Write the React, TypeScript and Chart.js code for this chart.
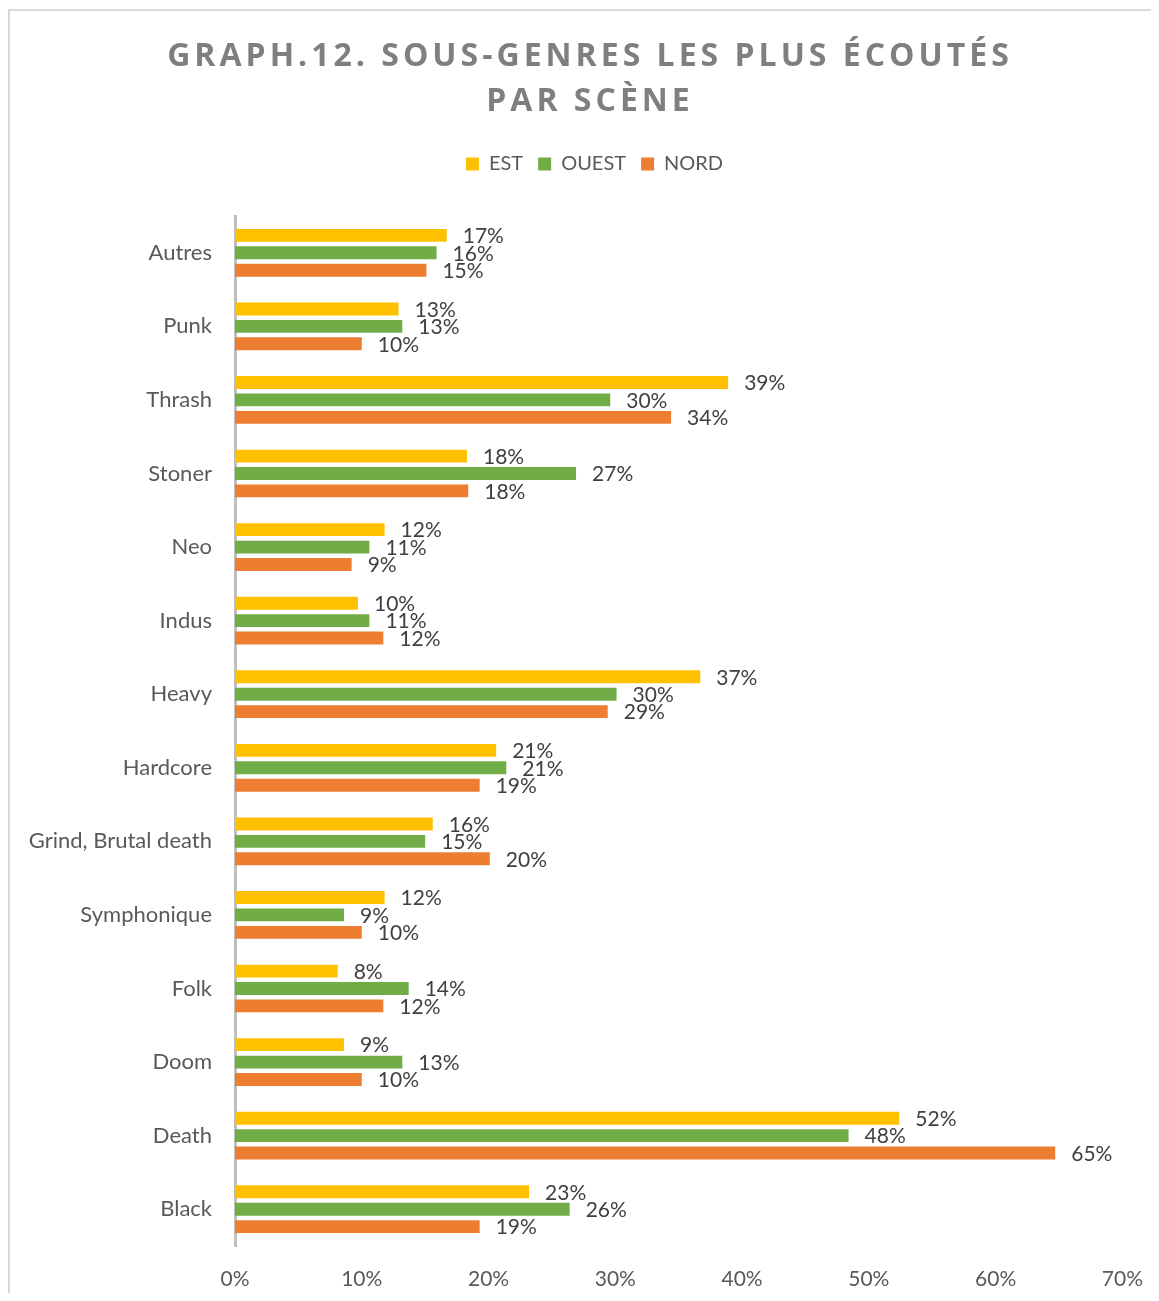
import React, { useEffect, useRef } from "react";
import { Chart, registerables } from "chart.js";

Chart.register(...registerables);

const titleLines = ["GRAPH.12. SOUS-GENRES LES PLUS ÉCOUTÉS", "PAR SCÈNE"];
const categories = [
  "Autres",
  "Punk",
  "Thrash",
  "Stoner",
  "Neo",
  "Indus",
  "Heavy",
  "Hardcore",
  "Grind, Brutal death",
  "Symphonique",
  "Folk",
  "Doom",
  "Death",
  "Black",
];
const seriesNames = ["EST", "OUEST", "NORD"];
const estValues = [16.7, 12.9, 38.9, 18.3, 11.8, 9.7, 36.7, 20.6, 15.6, 11.8, 8.1, 8.6, 52.4, 23.2];
const ouestValues = [15.9, 13.2, 29.6, 26.9, 10.6, 10.6, 30.1, 21.4, 15.0, 8.6, 13.7, 13.2, 48.4, 26.4];
const nordValues = [15.1, 10.0, 34.4, 18.4, 9.2, 11.7, 29.4, 19.3, 20.1, 10.0, 11.7, 10.0, 64.7, 19.3];
const xTicks = [0, 10, 20, 30, 40, 50, 60, 70];

const COLORS = ["#FFC000", "#70AD47", "#ED7D31"];
const FONT = "Lato";

const titlePlugin = {
  id: "customTitle",
  afterDraw(chart: any) {
    const ctx = chart.ctx;
    ctx.save();
    ctx.font = `bold 32px "Open Sans"`;
    (ctx as any).letterSpacing = "4px";
    ctx.fillStyle = "#7F7F7F";
    ctx.textAlign = "center";
    ctx.textBaseline = "alphabetic";
    titleLines.forEach((line, i) => {
      ctx.fillText(line, 580, 55 + i * 45);
    });
    ctx.restore();
  },
};

const labelClipPlugin = {
  id: "labelClip",
  afterLayout(chart: any) {
    // let the long category labels extend to the left edge of the canvas
    const y = chart.scales.y;
    if (y) y.left = 0;
  },
};

const valueLabelPlugin = {
  id: "valueLabels",
  afterDatasetsDraw(chart: any) {
    const ctx = chart.ctx;
    ctx.save();
    ctx.font = `21px ${FONT}`;
    ctx.fillStyle = "#404040";
    ctx.textAlign = "left";
    ctx.textBaseline = "middle";
    chart.data.datasets.forEach((ds: any, di: number) => {
      const meta = chart.getDatasetMeta(di);
      meta.data.forEach((bar: any, i: number) => {
        const v = ds.data[i];
        ctx.fillText(`${Math.round(v)}%`, bar.x + 16, bar.y + 1);
      });
    });
    ctx.restore();
  },
};

export default function App() {
  const canvasRef = useRef<HTMLCanvasElement | null>(null);

  useEffect(() => {
    if (!canvasRef.current) return;
    const seriesValues = [estValues, ouestValues, nordValues];
    const chart = new Chart(canvasRef.current, {
      type: "bar",
      data: {
        labels: categories,
        datasets: seriesNames.map((name, i) => ({
          label: name,
          data: seriesValues[i],
          backgroundColor: COLORS[i],
          borderWidth: 0,
          categoryPercentage: 0.71,
          barPercentage: 0.74,
        })),
      },
      options: {
        indexAxis: "y",
        animation: false,
        responsive: false,
        maintainAspectRatio: false,
        layout: { padding: { top: 128, left: 54, right: 34, bottom: 0 } },
        plugins: {
          title: { display: false },
          tooltip: { enabled: false },
          legend: {
            display: true,
            position: "top",
            labels: {
              boxWidth: 13,
              boxHeight: 13,
              padding: 15,
              color: "#595959",
              font: { family: FONT, size: 20 },
            },
          },
        },
        scales: {
          x: {
            type: "linear",
            position: "bottom",
            min: 0,
            max: 70,
            afterBuildTicks: (scale: any) => {
              scale.ticks = xTicks.map((v) => ({ value: v }));
            },
            ticks: {
              color: "#595959",
              font: { family: FONT, size: 21, lineHeight: 1.6 },
              padding: 16,
              callback: (v: any) => `${v}%`,
            },
            grid: { display: false, drawTicks: false },
            border: { display: false },
            afterFit: (s: any) => {
              s.height = 47;
            },
          },
          x2: {
            type: "linear",
            position: "top",
            display: true,
            ticks: { display: false },
            grid: { display: false, drawTicks: false },
            border: { display: false },
            afterFit: (s: any) => {
              s.height = 32;
            },
          },
          y: {
            type: "category",
            ticks: {
              color: "#595959",
              font: { family: FONT, size: 22 },
              padding: 23,
            },
            grid: { display: false, drawTicks: false },
            border: { display: true, color: "#BFBFBF", width: 3 },
            afterFit: (s: any) => {
              s.width = 171;
            },
          },
        },
      } as any,
      plugins: [titlePlugin, labelClipPlugin, valueLabelPlugin],
    });
    return () => chart.destroy();
  }, []);

  return (
    <div
      style={{
        marginTop: 1,
        borderTop: "2px solid #D9D9D9",
        borderLeft: "2px solid #D9D9D9",
        width: 1149,
        height: 1282,
        background: "#FFFFFF",
      }}
    >
      <canvas ref={canvasRef} width={1149} height={1282} style={{ display: "block" }} />
    </div>
  );
}
